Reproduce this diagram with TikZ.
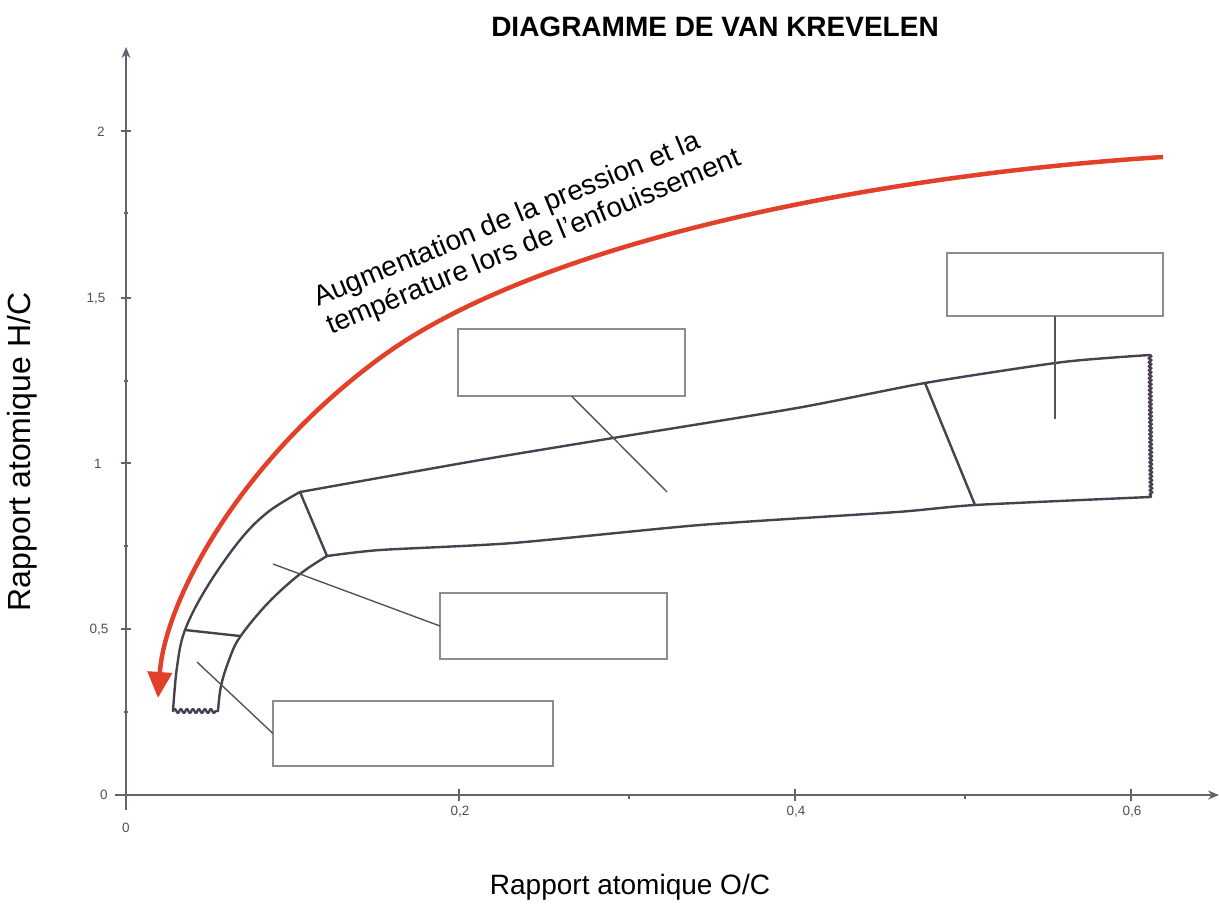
\documentclass[tikz,border=0pt]{standalone}
\usepackage{fontspec}
\setmainfont{Liberation Sans}
\usetikzlibrary{arrows.meta,decorations.pathmorphing}
\definecolor{bandc}{RGB}{75,64,80}
\definecolor{axisc}{RGB}{105,98,110}
\definecolor{boxc}{RGB}{140,140,145}
\definecolor{leadc}{RGB}{85,85,85}
\definecolor{redc}{RGB}{226,64,40}
\definecolor{tickc}{RGB}{85,80,88}
\tikzset{
  axisline/.style={draw=axisc,line width=2pt},
  bandline/.style={draw=bandc,line width=2.4pt,line join=round,line cap=round},
  lbox/.style={draw=boxc,line width=2pt,inner sep=0pt,outer sep=0pt,anchor=north west},
  leader/.style={draw=leadc,line width=1.4pt},
  ticklab/.style={text=tickc,font=\fontsize{13.5}{14}\selectfont},
  bigtext/.style={font=\fontsize{28}{31}\selectfont},
}
\begin{document}
\begin{tikzpicture}[x=1pt,y=-1pt]
\useasboundingbox (0,0) rectangle (1220,908);
\fill[white] (0,0) rectangle (1220,908);

% title
\node[font=\fontsize{28}{31}\selectfont\bfseries] (title) at (715,27) {DIAGRAMME DE VAN KREVELEN};

% axes
\draw[axisline,-{Stealth[length=11pt,width=9pt]}] (126,810) -- (126,47);
\draw[axisline,-{Stealth[length=11pt,width=9pt]}] (115,795) -- (1219,795);
\foreach \yy in {131,298,463,629} \draw[axisline] (121,\yy) -- (131,\yy);
\foreach \yy in {213,381,546,712} \draw[axisline] (124,\yy) -- (128,\yy);
\foreach \xx in {459,795,1131} \draw[axisline] (\xx,789) -- (\xx,801);
\foreach \xx in {629,965} \draw[axisline] (\xx,795) -- (\xx,799);

% tick labels
\node[ticklab] (ly2) at (101,132) {2};
\node[ticklab] (ly15) at (96,299) {1,5};
\node[ticklab] (ly1) at (98,464) {1};
\node[ticklab] (ly05) at (99,630) {0,5};
\node[ticklab] (ly0) at (104,795) {0};
\node[ticklab] (lx0) at (126,828) {0};
\node[ticklab] (lx2) at (460,812) {0,2};
\node[ticklab] (lx4) at (796,812) {0,4};
\node[ticklab] (lx6) at (1132,812) {0,6};

% axis titles
\node[bigtext] (xlab) at (630,887) {Rapport atomique O/C};
\node[font=\fontsize{32}{34}\selectfont,rotate=90] (ylab) at (22,452) {Rapport atomique H/C};

% band
\draw[bandline] plot[smooth,tension=0.6] coordinates {(173,711) (177,667) (185,630) (207,587) (240,540) (268,512) (300,492)};
\draw[bandline] plot[smooth,tension=0.4] coordinates {(300,492) (480,460) (613,438) (797,408) (925,383) (1063,362) (1150,355)};
\draw[bandline] plot[smooth,tension=0.6] coordinates {(218,711) (221,686) (229,660) (240,637) (268,603) (300,574) (327,556)};
\draw[bandline] plot[smooth,tension=0.4] coordinates {(327,556) (380,550) (513,543) (700,525) (897,512) (975,505) (1150,497)};
\draw[bandline] (300,492) -- (327,556);
\draw[bandline] (185,630) -- (240,636);
\draw[bandline] (925,383) -- (975,505);
\draw[bandline,decorate,decoration={snake,segment length=6pt,amplitude=2pt}] (173,711) -- (218,711);
\draw[bandline,decorate,decoration={snake,segment length=4pt,amplitude=1.4pt}] (1150,355) -- (1151,497);

% red arrow
\coordinate (rs) at (1163,157);
\coordinate (rm) at (380,358);
\coordinate (re) at (158,698);
\draw[draw=redc,line width=4.5pt,-{Triangle[length=26pt,width=24pt]}] (rs) .. controls (880,175) and (540,240) .. (rm) .. controls (240,461) and (165,600) .. (re);

% rotated text
\node[bigtext,rotate=22.5,anchor=base west,inner sep=0pt] (t1) at (318,307) {Augmentation de la pression et la};
\node[bigtext,rotate=22.5,anchor=base west,inner sep=0pt] (t2) at (331,335) {température lors de l’enfouissement};

% boxes
\node[lbox,minimum width=227pt,minimum height=67pt] (b1) at (458,329) {};
\node[lbox,minimum width=216pt,minimum height=63pt] (b2) at (947,253) {};
\node[lbox,minimum width=227pt,minimum height=66pt] (b3) at (440,593) {};
\node[lbox,minimum width=280pt,minimum height=65pt] (b4) at (273,701) {};

% leader end points
\coordinate (e1) at (667,492);
\coordinate (e2) at (1055,419);
\coordinate (e3) at (273,564);
\coordinate (e4) at (197,662);
\draw[leader] (b1.south) -- (e1);
\draw[leader] (b2.south) -- (e2);
\draw[leader] (b3.west) -- (e3);
\draw[leader] (b4.west) -- (e4);
\end{tikzpicture}
\end{document}
